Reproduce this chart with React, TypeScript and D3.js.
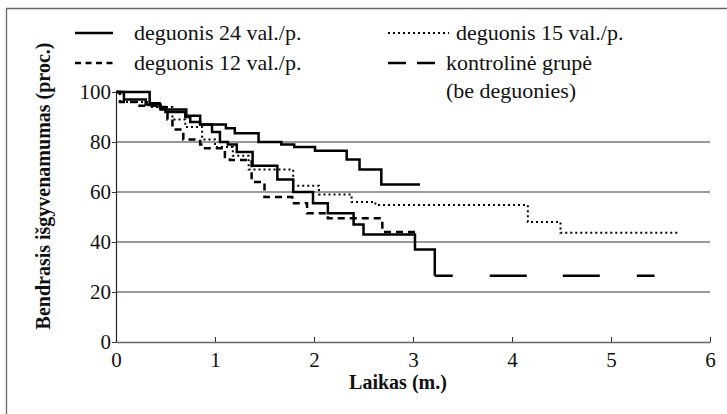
import { useRef, useEffect } from "react";
import * as d3 from "d3";

// Kaplan–Meier style step curves: [time (years), survival %]
const deguonis24 = [
  [0, 100], [0.34, 95.5], [0.44, 94], [0.5, 93], [0.71, 90.5], [0.85, 87],
  [1.11, 85.5], [1.2, 83.5], [1.44, 80], [1.67, 79], [1.8, 78], [2.01, 76.5],
  [2.33, 73], [2.46, 69], [2.68, 63], [3.07, 63],
];
const deguonis15 = [
  [0, 100], [0.08, 96], [0.33, 94], [0.57, 89], [0.7, 86], [0.87, 81],
  [1.0, 78], [1.18, 74.5], [1.34, 69], [1.79, 62.5], [2.05, 59], [2.38, 56],
  [2.62, 54.8], [4.16, 48], [4.49, 43.7], [5.67, 43.7],
];
const deguonis12 = [
  [0, 100], [0.04, 96], [0.22, 94.5], [0.45, 93], [0.52, 89], [0.57, 85],
  [0.68, 81], [0.85, 79], [0.9, 77.5], [1.1, 74], [1.15, 72.8], [1.37, 64],
  [1.5, 58], [1.78, 55.5], [1.93, 51.5], [2.14, 49.5], [2.69, 44], [3.02, 44],
];
const kontrole = [
  [0, 100], [0.08, 97], [0.3, 95], [0.45, 93.5], [0.5, 92], [0.7, 90],
  [0.75, 88], [0.85, 87], [0.97, 84], [1.05, 80], [1.13, 79], [1.22, 76],
  [1.38, 70.5], [1.63, 65], [1.79, 60], [1.99, 55.5], [2.14, 51.5], [2.4, 47],
  [2.5, 43], [3.02, 37], [3.22, 26.5],
];
const kontroleTail = [[3.22, 26.5], [5.44, 26.5]];

const xTicks = [0, 1, 2, 3, 4, 5, 6];
const yTicks = [0, 20, 40, 60, 80, 100];
const gridValues = [20, 40, 60, 80];

const FONT = "Liberation Serif, DejaVu Serif, serif";

function App() {
  const svgRef = useRef(null);

  useEffect(() => {
    const w = 727;
    const h = 414;
    const svg = d3.select(svgRef.current).attr("width", w).attr("height", h);
    svg.selectAll("*").remove();

    const x = d3.scaleLinear().domain([0, 6]).range([116, 710]);
    const y = d3.scaleLinear().domain([0, 100]).range([342, 92]);

    // frame
    svg.append("path")
      .attr("d", "M6.5,414 V8.5 H727")
      .attr("fill", "none")
      .attr("stroke", "#666")
      .attr("stroke-width", 1.3);

    // grid
    svg.selectAll(".grid").data(gridValues).join("line")
      .attr("x1", x(0)).attr("x2", x(6))
      .attr("y1", (d) => y(d)).attr("y2", (d) => y(d))
      .attr("stroke", "#777").attr("stroke-width", 1.4);

    // x axis
    const xAxis = svg.append("g").attr("transform", `translate(0,${y(0)})`)
      .call(d3.axisBottom(x).tickValues(xTicks).tickFormat(d3.format("d"))
        .tickSizeInner(-5).tickSizeOuter(0).tickPadding(10));
    xAxis.select(".domain").attr("stroke", "#666").attr("stroke-width", 1.4);
    xAxis.selectAll(".tick line").attr("stroke", "#333");
    xAxis.selectAll("text").style("font-family", FONT).style("font-size", "21px").attr("fill", "#111");

    // y axis
    const yAxis = svg.append("g").attr("transform", `translate(${x(0)},0)`)
      .call(d3.axisLeft(y).tickValues(yTicks).tickFormat(d3.format("d"))
        .tickSizeInner(4).tickSizeOuter(0).tickPadding(1));
    yAxis.select(".domain").attr("stroke", "#222").attr("stroke-width", 1.2);
    yAxis.selectAll(".tick line").attr("stroke", "#333");
    yAxis.selectAll("text").style("font-family", FONT).style("font-size", "21px").attr("fill", "#111");

    const line = d3.line().x((d) => x(d[0])).y((d) => y(d[1])).curve(d3.curveStepAfter);

    const series = [
      { data: kontrole, dash: null, width: 2.5 },
      { data: kontroleTail, dash: "18 37 37 36 37 37 18", width: 2.5 },
      { data: deguonis12, dash: "7 5", width: 2.5 },
      { data: deguonis15, dash: "2 3", width: 2 },
      { data: deguonis24, dash: null, width: 2.5 },
    ];
    svg.selectAll(".curve").data(series).join("path")
      .attr("d", (d) => line(d.data))
      .attr("fill", "none")
      .attr("stroke", "#000")
      .attr("stroke-width", (d) => d.width)
      .attr("stroke-dasharray", (d) => d.dash);

    // legend
    const legend = [
      { x1: 75, x2: 113, y: 33, dash: null, width: 2.5, tx: 134, label: ["deguonis 24 val./p."] },
      { x1: 75, x2: 113, y: 63, dash: "6 4.5", width: 2.5, tx: 134, label: ["deguonis 12 val./p."] },
      { x1: 388, x2: 449, y: 33, dash: "2 3", width: 2, tx: 456, label: ["deguonis 15 val./p."] },
      { x1: 388, x2: 435, y: 63, dash: "18 11", width: 2.5, tx: 446, label: ["kontrolinė grupė", "(be deguonies)"] },
    ];
    const lg = svg.selectAll(".lg").data(legend).join("g");
    lg.append("line")
      .attr("x1", (d) => d.x1).attr("x2", (d) => d.x2)
      .attr("y1", (d) => d.y).attr("y2", (d) => d.y)
      .attr("stroke", "#000").attr("stroke-width", (d) => d.width)
      .attr("stroke-dasharray", (d) => d.dash);
    lg.each(function (d) {
      d3.select(this).selectAll("text").data(d.label).join("text")
        .attr("x", d.tx)
        .attr("y", (_, i) => d.y + 7 + i * 28)
        .style("font-family", FONT)
        .style("font-size", "22px")
        .attr("fill", "#111")
        .text((t) => t);
    });

    // axis titles
    svg.append("text")
      .attr("transform", "translate(50,186) rotate(-90)")
      .attr("text-anchor", "middle")
      .style("font-family", FONT).style("font-size", "20px").style("font-weight", "bold")
      .attr("fill", "#111")
      .text("Bendrasis išgyvenamumas (proc.)");
    svg.append("text")
      .attr("x", 398).attr("y", 389)
      .attr("text-anchor", "middle")
      .style("font-family", FONT).style("font-size", "20px").style("font-weight", "bold")
      .attr("fill", "#111")
      .text("Laikas (m.)");
  }, []);

  return <svg ref={svgRef} style={{ position: "absolute", left: 0, top: 0 }}></svg>;
}

export default App;
